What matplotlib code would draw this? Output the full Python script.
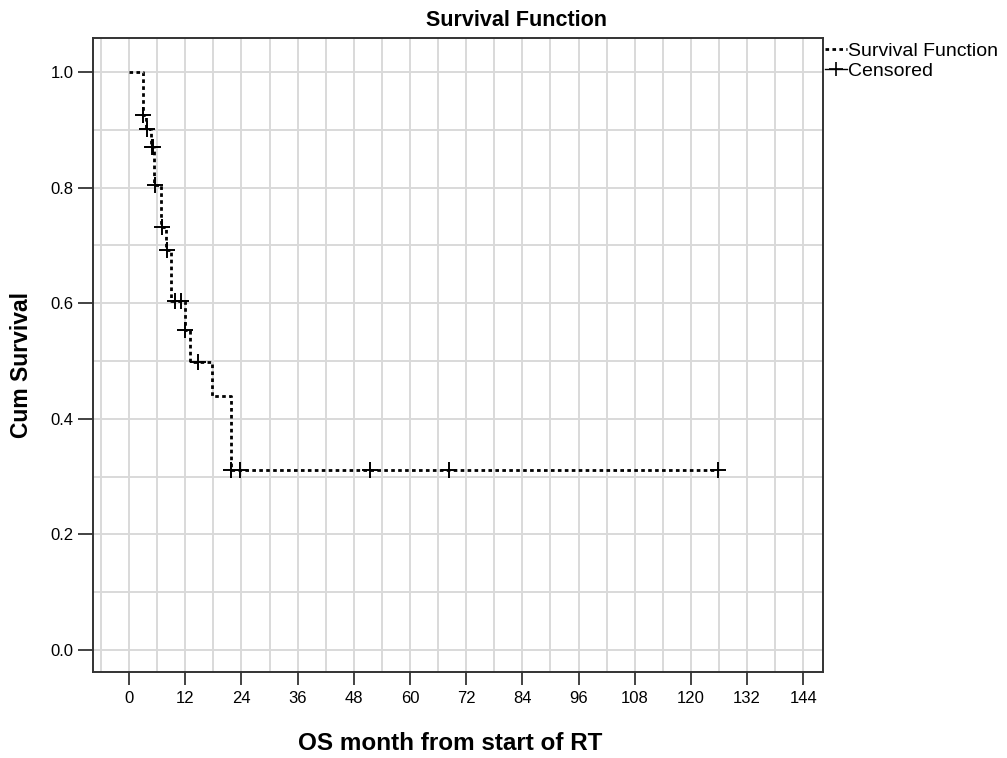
import matplotlib
matplotlib.use("Agg")
import matplotlib.pyplot as plt
from matplotlib.lines import Line2D
import numpy as np

plt.rcParams['font.family'] = ['Liberation Sans', 'DejaVu Sans']

# Kaplan-Meier step data
step_times = [0, 2.9, 3.7, 4.7, 5.4, 6.9, 7.8, 8.9, 11.9, 13.0, 17.8, 21.7]
step_surv = [1.0, 0.926, 0.901, 0.870, 0.804, 0.732, 0.692, 0.604, 0.554, 0.498, 0.440, 0.311]
end_time = 125.8

censor_times = [3.0, 3.9, 4.9, 5.1, 5.6, 7.1, 8.0, 9.9, 11.2, 12.0, 14.8, 21.8, 23.6, 51.4, 68.3, 125.8]
censor_surv = [0.926, 0.901, 0.870, 0.870, 0.804, 0.732, 0.692, 0.604, 0.604, 0.554, 0.498,
               0.311, 0.311, 0.311, 0.311, 0.311]

x_ticks = [0, 12, 24, 36, 48, 60, 72, 84, 96, 108, 120, 132, 144]
y_ticks = [0.0, 0.2, 0.4, 0.6, 0.8, 1.0]

title = "Survival Function"
x_label = "OS month from start of RT"
y_label = "Cum Survival"

fig = plt.figure(figsize=(10.07, 7.58), dpi=100)
ax = fig.add_axes([93/1007, 1-672/758, (823-93)/1007, (672-38)/758])

# grid
for gx in np.arange(-6, 150, 6):
    ax.axvline(gx, color='#d9d9d9', lw=1.4, zorder=0)
for gy in np.arange(0, 1.01, 0.1):
    ax.axhline(gy, color='#d9d9d9', lw=1.4, zorder=0)

xs = step_times + [end_time]
ys = step_surv + [step_surv[-1]]
ax.step(xs, ys, where='post', color='black', lw=2.0,
        linestyle=(0, (1.3, 1.2)), dash_capstyle='butt', zorder=3)
ax.plot(censor_times, censor_surv, linestyle='none', marker='+', color='black',
        markersize=11, markeredgewidth=1.4, zorder=4)

ax.set_xlim(-7.7, 148.2)
ax.set_ylim(-0.038, 1.059)
ax.set_xticks(x_ticks)
ax.set_xticklabels([str(t) for t in x_ticks])
ax.set_yticks(y_ticks)
ax.set_yticklabels([f"{t:.1f}" for t in y_ticks])
ax.tick_params(axis='x', direction='out', length=9, width=1.2, labelsize=12, pad=5, color='#222222')
ax.tick_params(axis='y', direction='out', length=11, width=1.2, labelsize=12, pad=3, color='#222222')
for s in ax.spines.values():
    s.set_color('#333333')
    s.set_linewidth(1.4)

ax.set_xlabel(x_label, fontsize=17.5, fontweight='bold')
ax.xaxis.label.set_va('center')
ax.xaxis.set_label_coords((450-93)/730, (672-743)/634)
ax.set_ylabel(y_label, fontsize=16.5, fontweight='bold')
ax.yaxis.label.set_va('center')
ax.yaxis.set_label_coords((22-93)/730, (672-365)/634)
fig.text(516/1007, 1-20/758, title, fontsize=15.5, fontweight='bold', ha='center', va='center')

handles = [Line2D([0], [0], color='black', lw=2.0, linestyle=(0, (1.3, 1.2))),
           Line2D([0], [0], color='black', lw=1.0, marker='+', markersize=10, markeredgewidth=1.2)]
fig.legend(handles, ["Survival Function", "Censored"], loc='upper left',
           bbox_to_anchor=(825/1007, 1-42/758), frameon=False, fontsize=14,
           handlelength=1.15, handletextpad=0.05, labelspacing=0.15, borderpad=0, borderaxespad=0)

fig.savefig("out.png", dpi=100)
